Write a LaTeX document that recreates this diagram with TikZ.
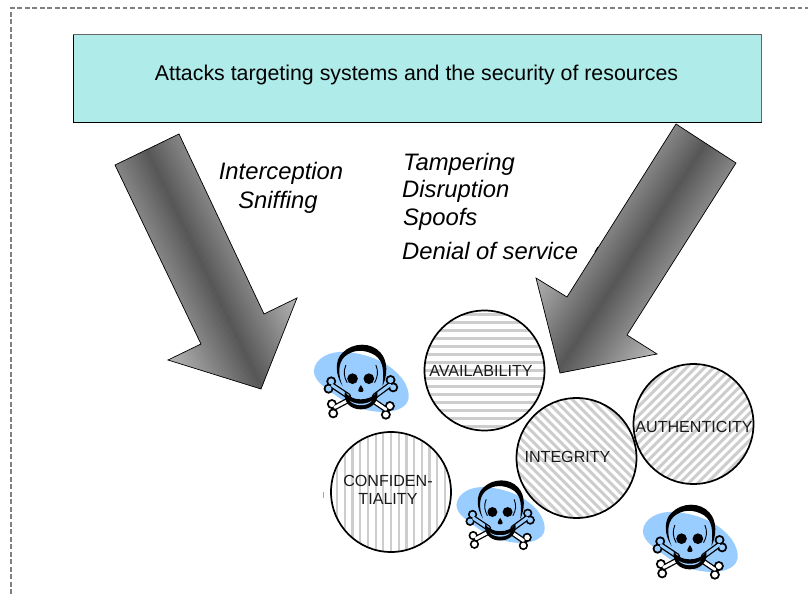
\documentclass[tikz,border=0pt]{standalone}
\usepackage{fontspec}
\setmainfont{Liberation Sans}
\definecolor{boxfill}{HTML}{AEEBE9}
\definecolor{blobblue}{HTML}{99CCFF}
\definecolor{stripegray}{HTML}{CDCDCD}
\definecolor{inkgray}{HTML}{1A1A1A}
\tikzset{
  stripeline/.style={draw=stripegray},
  ball/.style={circle,draw=black,line width=1.7pt,minimum size=120pt,inner sep=0pt,outer sep=0pt},
  balltext/.style={font=\fontsize{16.1}{18.5}\selectfont,text=inkgray,align=center,inner sep=0pt},
  attack/.style={font=\fontsize{23.8}{28}\selectfont\itshape,text=black,inner sep=0pt},
  arrowline/.style={draw=black,line width=.7pt,line join=miter}
}
\newcommand{\stripedball}[6]{% name, x, y, angle, period, stripe width
  \begin{scope}
    \clip (#2,#3) circle (60);
    \begin{scope}[shift={(#2,#3)},rotate=#4]
      \foreach \k in {-12,...,12} \draw[stripeline,line width=#6] (-75,\k*#5) -- (75,\k*#5);
    \end{scope}
  \end{scope}
  \node[ball] (#1) at (#2,#3) {};
}
\newcommand{\shaftshade}[3]{% x, y of tail centre, angle
  \begin{scope}[shift={(#1,#2)},rotate=#3]
    \foreach \t in {-74,-73,...,74} {
      \pgfmathsetmacro\shadeval{66-38*abs(\t)/72}
      \draw[draw=black!\shadeval,line width=1.5pt] (\t,-10) -- (\t,330);
    }
  \end{scope}
}
\newcommand{\bonemark}[9]{%
  \draw[black,line width=5.6pt,line cap=round] (#1,#2) -- (#3,#4);
  \fill[black] (#5,#6) circle (15) (#7,#8) circle (15);
  \fill[#9] (#5,#6) circle (9) (#7,#8) circle (9);
  \draw[#9,line width=3pt,line cap=round] (#1,#2) -- (#3,#4);
}
\newcommand{\skullmark}[3]{%
  \begin{scope}[shift={(#1,#2)},scale=#3/3,shift={(-182.5,-146)}]
    \fill[blobblue] (42,122) .. controls (45,85) and (90,62) .. (135,66)
      .. controls (200,70) and (270,95) .. (310,150)
      .. controls (335,190) and (335,225) .. (290,240)
      .. controls (240,255) and (170,240) .. (110,198)
      .. controls (80,175) and (42,155) .. (42,122) -- cycle;
    \bonemark{105}{232}{150}{208}{96}{222}{100}{250}{white}
    \bonemark{258}{238}{220}{212}{270}{228}{258}{254}{white}
    \bonemark{97}{166}{145}{198}{94}{154}{86}{176}{blobblue}
    \bonemark{270}{165}{225}{198}{272}{150}{280}{172}{blobblue}
    \fill[black] (128,168) .. controls (106,135) and (104,90) .. (128,68)
      .. controls (160,36) and (215,36) .. (242,68)
      .. controls (264,92) and (264,135) .. (248,168)
      .. controls (252,125) and (252,95) .. (226,76)
      .. controls (195,57) and (160,57) .. (134,80)
      .. controls (114,100) and (114,135) .. (128,168) -- cycle;
    \draw[black,line width=.9pt] (138,105) .. controls (130,125) and (132,140) .. (142,158);
    \draw[black,line width=.9pt] (228,105) .. controls (236,125) and (234,140) .. (224,158);
    \fill[black] (158,146) circle (16) (207,146) circle (16);
    \fill[black] (183,165) .. controls (173,180) and (172,186) .. (183,186) .. controls (194,186) and (193,180) .. (183,165) -- cycle;
    \fill[black] (135,184) .. controls (150,216) and (215,216) .. (232,184)
      .. controls (238,215) and (215,238) .. (183,238)
      .. controls (150,238) and (130,215) .. (135,184) -- cycle;
    \fill[blobblue] (150,212) .. controls (165,224) and (200,224) .. (216,212)
      .. controls (205,230) and (162,230) .. (150,212) -- cycle;
  \end{scope}
}
\begin{document}
\begin{tikzpicture}[x=1pt,y=-1pt]
\useasboundingbox (0,0) rectangle (808,594);
\draw[draw=black!50,line width=1.2pt,dash pattern=on 4.8pt off 2.7pt] (11,594) -- (11,8) -- (808,8);
\node[draw=black,line width=1pt,fill=boxfill,minimum width=688pt,minimum height=87pt,inner sep=0pt,outer sep=0pt] (topbox) at (417,78.5) {};
\draw[draw=black!60,line width=1pt] (topbox.north west) -- (topbox.north east) -- (topbox.south east);
\node[font=\fontsize{21.35}{24}\selectfont,text=black,inner sep=0pt] (toptext) at (416.5,74.5) {Attacks targeting systems and the security of resources};
\begin{scope}
  \clip (179,134) -- (264,314) -- (297,298) -- (261,389) -- (168,360) -- (201,344) -- (115,165) -- cycle;
  \shaftshade{147}{149.5}{25.8}
\end{scope}
\draw[arrowline] (179,134) -- (264,314) -- (297,298) -- (261,389) -- (168,360) -- (201,344) -- (115,165) -- cycle;
\begin{scope}
  \clip (676,124) -- (567,297) -- (536,278) -- (560,373) -- (657,354) -- (627,335) -- (736,163) -- cycle;
  \shaftshade{706}{143.5}{-33}
\end{scope}
\draw[arrowline] (676,124) -- (567,297) -- (536,278) -- (560,373) -- (657,354) -- (627,335) -- (736,163) -- cycle;
\draw[black,line width=1pt] (598,247) -- (595,252);
\node[attack] (interception) at (281,173) {Interception};
\node[attack] (sniffing) at (278,202.5) {Sniffing};
\node[attack,anchor=base west] (tampering) at (403,170) {Tampering};
\node[attack,anchor=base west] (disruption) at (402,197) {Disruption};
\node[attack,anchor=base west] (spoofs) at (403,225) {Spoofs};
\node[attack,anchor=base west] (denial) at (402,259) {Denial of service};
\skullmark{360.7}{378.7}{1}
\skullmark{500}{512}{.93}
\skullmark{689.7}{538.7}{1}
\stripedball{availability}{484.5}{370.5}{0}{8}{2.2pt}
\stripedball{confidentiality}{391}{492}{90}{7.7}{2.2pt}
\stripedball{integrity}{576.5}{458}{-45}{6.4}{3pt}
\stripedball{authenticity}{693.5}{424}{45}{6.4}{3pt}
\draw[black!35,line width=.6pt] (323,492) -- (323,498);
\node[balltext] (availtext) at (481,370.5) {AVAILABILITY};
\node[balltext] (conftext) at (388,490) {CONFIDEN-\\TIALITY};
\node[balltext] (integtext) at (567.5,456.5) {INTEGRITY};
\node[balltext] (authtext) at (694,427) {AUTHENTICITY};
\end{tikzpicture}
\end{document}
